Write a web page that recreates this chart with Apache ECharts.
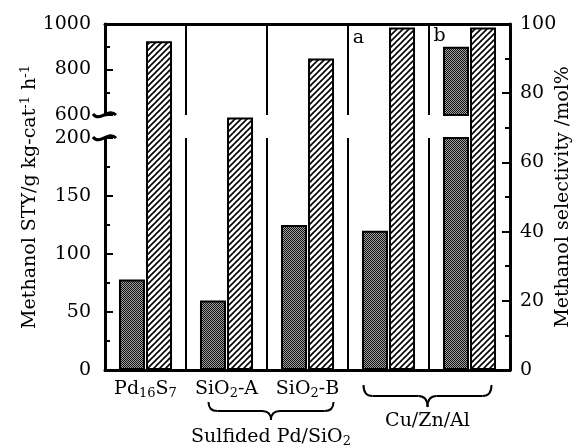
<!DOCTYPE html>
<html>
<head>
<meta charset="utf-8">
<script src="https://cdn.jsdelivr.net/npm/echarts@6/dist/echarts.min.js"></script>
<style>
  html, body { margin: 0; padding: 0; background: #fff; }
  #main { width: 583px; height: 446px; }
</style>
</head>
<body>
<div id="main"></div>
<script>
// one band per catalyst
var catalysts = ['Pd16S7', 'SiO2-A', 'SiO2-B', 'Cu/Zn/Al a', 'Cu/Zn/Al b'];
var bandLabels = ['Pd{sub|16}S{sub|7}', 'SiO{sub|2}-A', 'SiO{sub|2}-B', '', ''];
// methanol STY, g kg-cat-1 h-1 (left axis, broken between 200 and 600)
var sty = [78, 60, 125, 120, 900];
// methanol selectivity, mol% (right axis)
var selectivity = [95, 73, 90, 99, 99];
// axis ranges
var lowRange = [0, 200];
var highRange = [600, 1000];
var selRange = [0, 100];

var FONT = 'DejaVu Serif';
var FS = 19;

// fill patterns like the printed figure
function hatchTile() {
  var c = document.createElement('canvas');
  c.width = c.height = 6;
  var g = c.getContext('2d');
  g.fillStyle = '#fff';
  g.fillRect(0, 0, 6, 6);
  g.strokeStyle = '#000';
  g.lineWidth = 1.6;
  g.beginPath();
  g.moveTo(-1, 7); g.lineTo(7, -1);
  g.moveTo(-1, 1); g.lineTo(1, -1);
  g.moveTo(5, 7); g.lineTo(7, 5);
  g.stroke();
  return c;
}
function screenTile() {
  var c = document.createElement('canvas');
  c.width = c.height = 2;
  var g = c.getContext('2d');
  g.fillStyle = '#a0a0a0';
  g.fillRect(0, 0, 2, 2);
  g.fillStyle = '#111';
  g.fillRect(0, 0, 1, 1);
  g.fillRect(1, 1, 1, 1);
  return c;
}

var darkStyle = { color: { image: screenTile(), repeat: 'repeat' }, borderColor: '#000', borderWidth: 2 };
var hatchStyle = { color: { image: hatchTile(), repeat: 'repeat' }, borderColor: '#000', borderWidth: 2 };

var black = { color: '#000', width: 2 };
var labelFont = { color: '#000', fontFamily: FONT, fontSize: FS };
function plain(v) { return String(v); }

function leftAxis(grid, range, step) {
  return {
    gridIndex: grid, type: 'value', position: 'left',
    min: range[0], max: range[1], interval: step,
    axisLine: { show: true, lineStyle: { color: '#000', width: 3 } },
    axisTick: { show: true, inside: true, length: 8, lineStyle: black },
    minorTick: { show: true, splitNumber: 2, length: 5, lineStyle: black },
    axisLabel: Object.assign({ margin: 14, formatter: plain, showMinLabel: true, showMaxLabel: true }, labelFont),
    splitLine: { show: false }
  };
}

var chart = echarts.init(document.getElementById('main'));

var option = {
  animation: false,
  backgroundColor: '#fff',
  grid: [
    { left: 105, right: 73, top: 138, bottom: 76, outerBoundsMode: 'none' },
    { left: 105, right: 73, top: 24, bottom: 331, outerBoundsMode: 'none' },
    { left: 105, right: 73, top: 24, bottom: 76, outerBoundsMode: 'none' }
  ],
  xAxis: [
    {
      gridIndex: 0, type: 'category', data: catalysts,
      axisLine: { lineStyle: { color: '#000', width: 3 } },
      axisTick: { show: false },
      splitLine: { show: true, interval: 0, lineStyle: black },
      axisLabel: Object.assign({
        interval: 0, margin: 8,
        formatter: function (v, i) { return bandLabels[i]; },
        rich: {
          sub: { fontFamily: FONT, fontSize: 13, color: '#000', padding: [9, 0, 0, 0] }
        }
      }, labelFont)
    },
    {
      gridIndex: 1, type: 'category', data: catalysts, position: 'top',
      axisLine: { lineStyle: { color: '#000', width: 3 } },
      axisTick: { show: false },
      axisLabel: { show: false },
      splitLine: { show: true, interval: 0, lineStyle: black }
    },
    { gridIndex: 2, type: 'category', data: catalysts, show: false }
  ],
  yAxis: [
    leftAxis(0, lowRange, 50),
    leftAxis(1, highRange, 200),
    {
      gridIndex: 2, type: 'value', position: 'right',
      min: selRange[0], max: selRange[1], interval: 20,
      name: 'Methanol selectivity /mol%',
      nameLocation: 'middle', nameGap: 44, nameMoveOverlap: false,
      nameTextStyle: labelFont,
      axisLine: { show: true, lineStyle: { color: '#000', width: 3 } },
      axisTick: { show: true, inside: true, length: 8, lineStyle: black },
      minorTick: { show: true, splitNumber: 2, length: 5, lineStyle: black },
      axisLabel: Object.assign({ margin: 10, formatter: plain, showMinLabel: true, showMaxLabel: true }, labelFont),
      splitLine: { show: false }
    },
    {
      gridIndex: 2, type: 'value', position: 'left',
      min: selRange[0], max: selRange[1],
      name: 'Methanol STY/g kg-cat{sup|-1} h{sup|-1}',
      nameLocation: 'middle', nameGap: 63, nameMoveOverlap: false,
      nameTextStyle: Object.assign({
        rich: { sup: { fontFamily: FONT, fontSize: 13, color: '#000', padding: [0, 0, 10, 0] } }
      }, labelFont),
      axisLine: { show: false }, axisTick: { show: false },
      axisLabel: { show: false }, splitLine: { show: false }
    }
  ],
  series: [
    { type: 'bar', name: 'STY', xAxisIndex: 0, yAxisIndex: 0, data: sty, barWidth: 26, barGap: '4%', itemStyle: darkStyle },
    { type: 'bar', name: 'slot-low', xAxisIndex: 0, yAxisIndex: 0, data: [], barWidth: 26 },
    { type: 'bar', name: 'STY high', xAxisIndex: 1, yAxisIndex: 1, data: sty, barWidth: 26, barGap: '4%', itemStyle: darkStyle },
    { type: 'bar', name: 'slot-high', xAxisIndex: 1, yAxisIndex: 1, data: [], barWidth: 26 },
    { type: 'bar', name: 'slot-sel', xAxisIndex: 2, yAxisIndex: 2, data: [], barWidth: 26, barGap: '4%' },
    { type: 'bar', name: 'Selectivity', xAxisIndex: 2, yAxisIndex: 2, data: selectivity, barWidth: 26, itemStyle: hatchStyle }
  ]
};
chart.setOption(option);

// annotations placed from the axes
function px(i) { return chart.convertToPixel({ xAxisIndex: 0 }, catalysts[i]); }
function py(axis, v) { return chart.convertToPixel({ yAxisIndex: axis }, v); }

var ink = { stroke: '#000', lineWidth: 2, fill: null };

function brace(x1, x2, yTop, yMid, yTip) {
  var xm = (x1 + x2) / 2, r = 9;
  return [
    { type: 'bezierCurve', shape: { x1: x1, y1: yTop, x2: x1 + r, y2: yMid, cpx1: x1, cpy1: yMid }, style: ink },
    { type: 'line', shape: { x1: x1 + r, y1: yMid, x2: xm - r, y2: yMid }, style: ink },
    { type: 'bezierCurve', shape: { x1: xm - r, y1: yMid, x2: xm, y2: yTip, cpx1: xm, cpy1: yMid }, style: ink },
    { type: 'bezierCurve', shape: { x1: xm, y1: yTip, x2: xm + r, y2: yMid, cpx1: xm, cpy1: yMid }, style: ink },
    { type: 'line', shape: { x1: xm + r, y1: yMid, x2: x2 - r, y2: yMid }, style: ink },
    { type: 'bezierCurve', shape: { x1: x2 - r, y1: yMid, x2: x2, y2: yTop, cpx1: x2, cpy1: yMid }, style: ink }
  ];
}

function breakMark(y) {
  var x = px(0) - 40.5;
  return {
    type: 'bezierCurve',
    shape: { x1: x - 12, y1: y - 1, cpx1: x - 5, cpy1: y + 8, cpx2: x + 3, cpy2: y - 8, x2: x + 11, y2: y },
    style: { stroke: '#000', lineWidth: 3, fill: null }
  };
}

var yBase = py(0, 0);
var sx1 = px(1) - 18, sx2 = px(2) + 26;
var cx1 = px(3) - 25, cx2 = px(4) + 22;

var els = []
  .concat(brace(sx1, sx2, yBase + 32, yBase + 41, yBase + 50))
  .concat(brace(cx1, cx2, yBase + 15, yBase + 26, yBase + 37))
  .concat([
    breakMark(py(1, highRange[0])),
    breakMark(py(0, lowRange[1])),
    {
      type: 'text', x: (sx1 + sx2) / 2, y: yBase + 56,
      style: {
        text: 'Sulfided Pd/SiO{sub|2}', fontFamily: FONT, fontSize: FS, fill: '#000',
        align: 'center', verticalAlign: 'top',
        rich: { sub: { fontFamily: FONT, fontSize: 13, fill: '#000', padding: [9, 0, 0, 0] } }
      }
    },
    {
      type: 'text', x: (cx1 + cx2) / 2, y: yBase + 42,
      style: { text: 'Cu/Zn/Al', fontFamily: FONT, fontSize: FS, fill: '#000', align: 'center', verticalAlign: 'top' }
    },
    {
      type: 'text', x: px(3) - 30, y: py(2, 96),
      style: { text: 'a', fontFamily: FONT, fontSize: FS, fill: '#000', align: 'center', verticalAlign: 'middle' }
    },
    {
      type: 'text', x: px(4) - 30, y: py(2, 96.5),
      style: { text: 'b', fontFamily: FONT, fontSize: FS, fill: '#000', align: 'center', verticalAlign: 'middle' }
    }
  ]);

chart.setOption({ graphic: { elements: els } });
</script>
</body>
</html>
